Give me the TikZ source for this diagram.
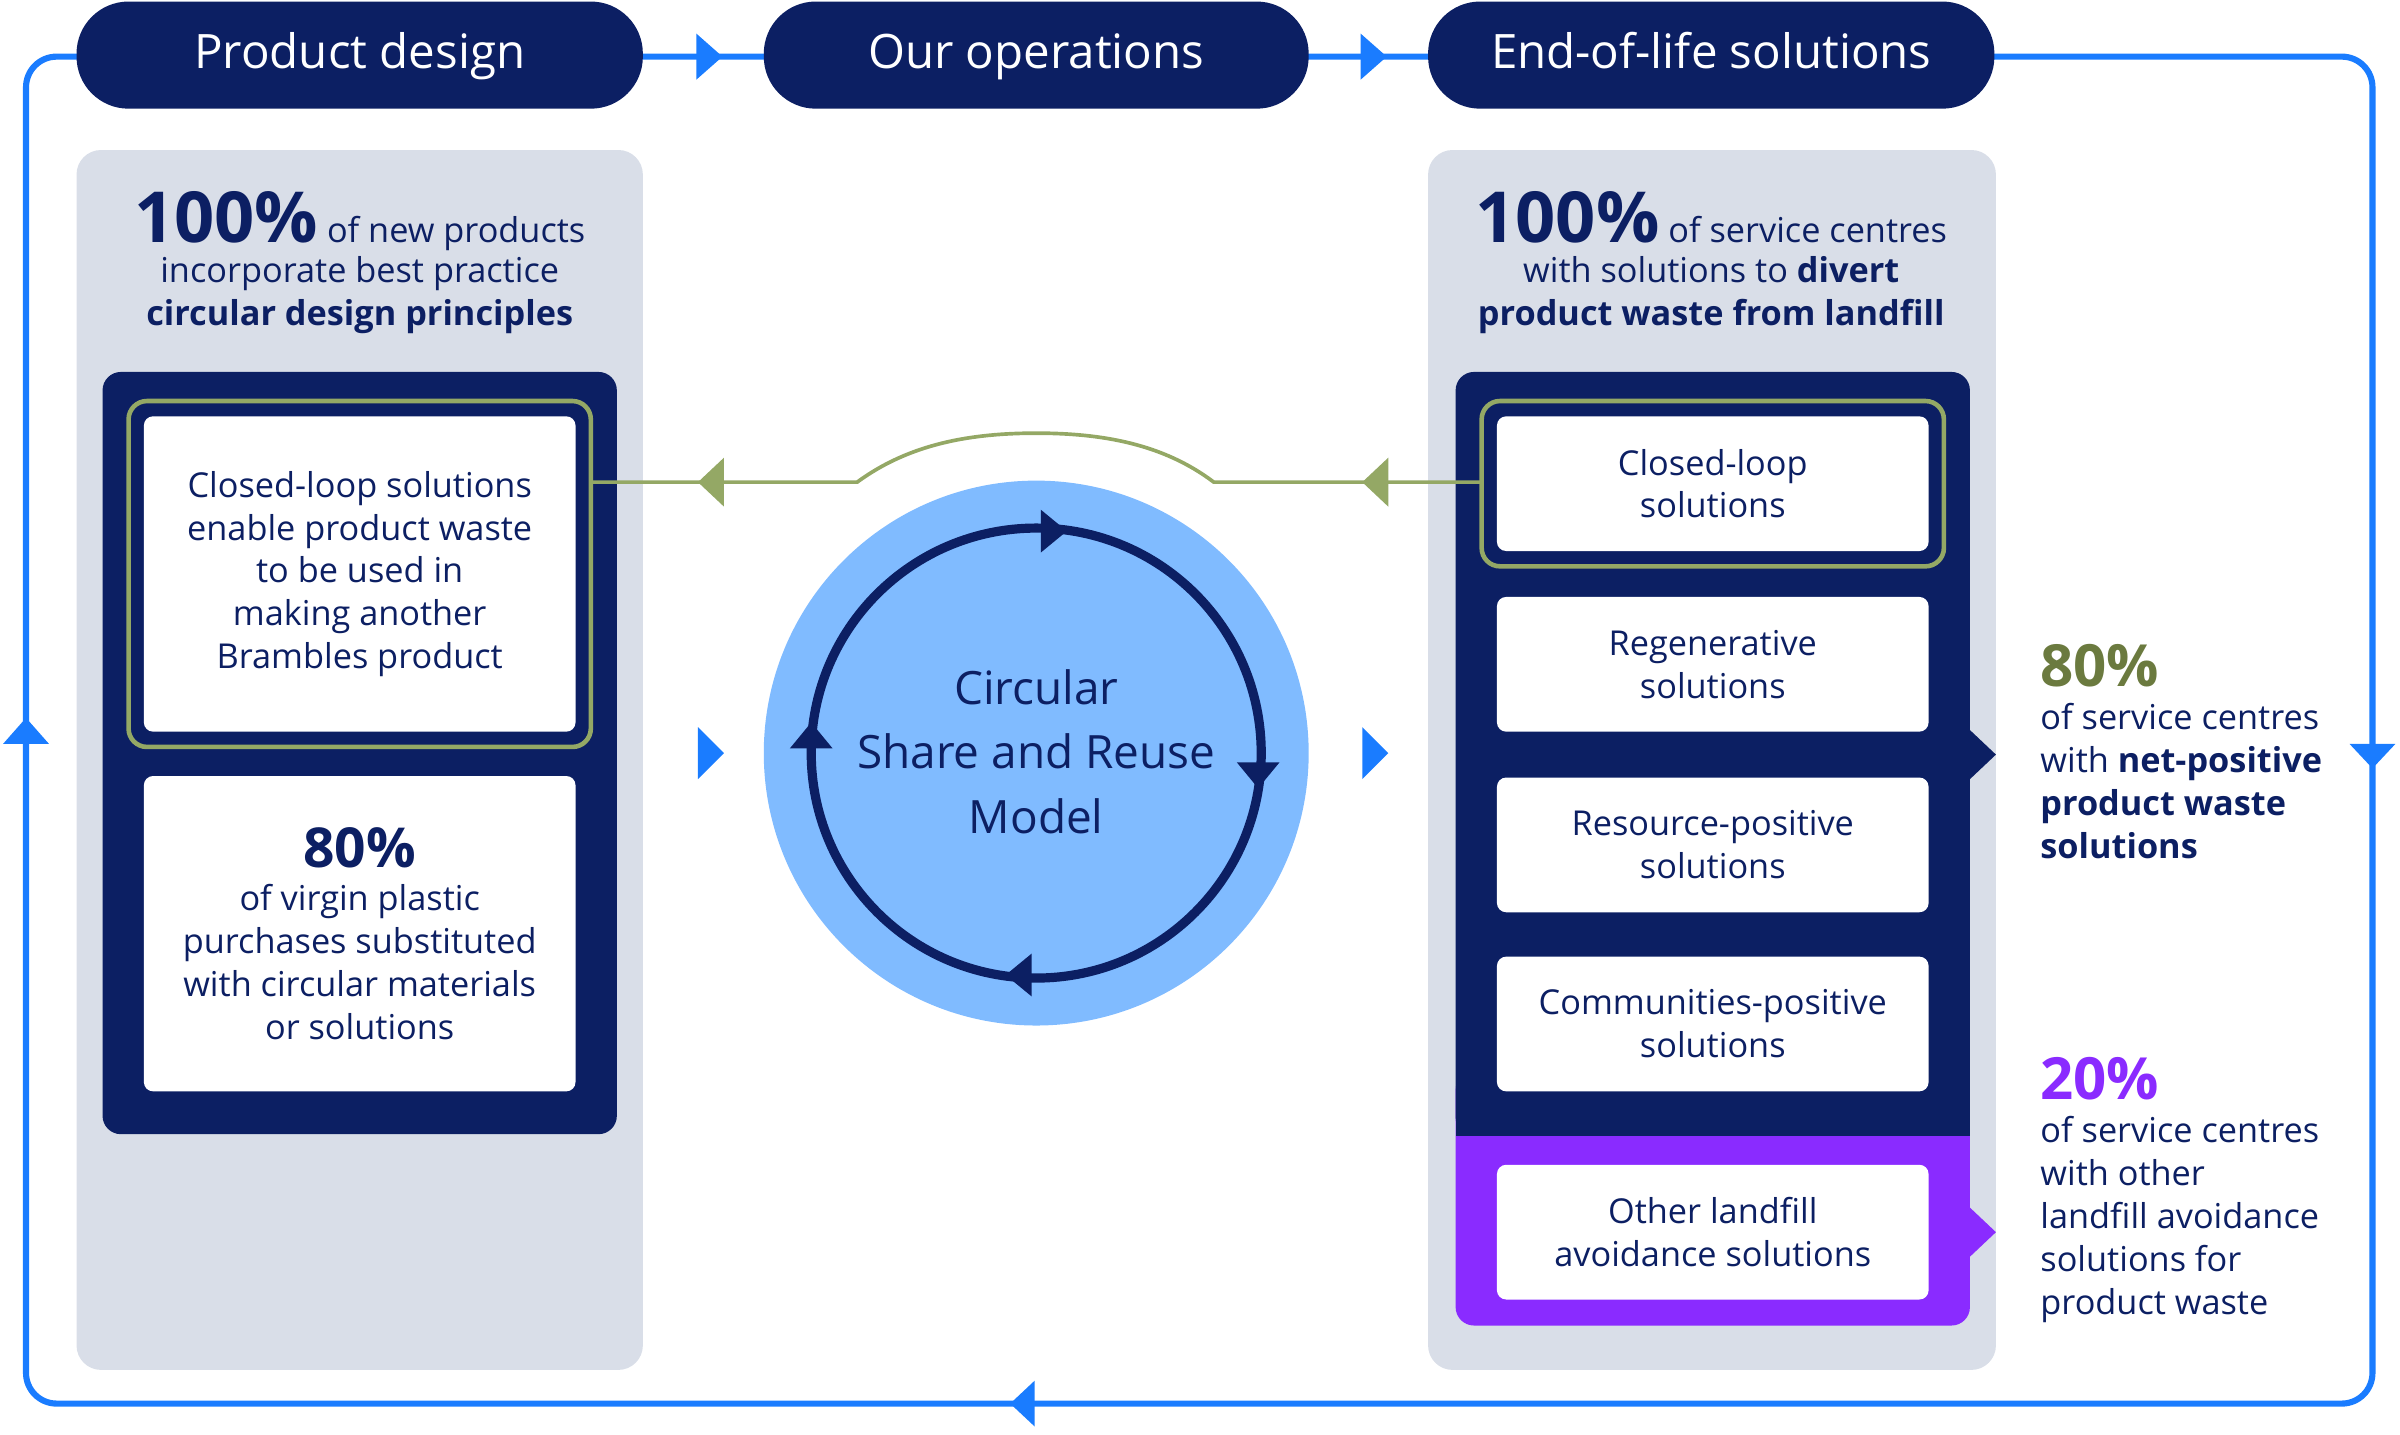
\documentclass[tikz,border=0pt]{standalone}
\usepackage{fontspec}
\setmainfont{Open Sans}
\usetikzlibrary{positioning}
\definecolor{navy}{HTML}{0C1F63}
\definecolor{loopblue}{HTML}{1A7CFF}
\definecolor{lightblue}{HTML}{80BBFF}
\definecolor{panelgray}{HTML}{D9DEE8}
\definecolor{olive}{HTML}{94A865}
\definecolor{olivetext}{HTML}{6B7A3F}
\definecolor{purp}{HTML}{8A2BFF}
\tikzset{
  header/.style={fill=navy, rounded corners=17pt, text=white, text height=12pt, text depth=3pt, font=\fontsize{15.5}{19}\selectfont},
  card/.style={fill=white, rounded corners=3pt, text=navy, align=center, font=\fontsize{11.2}{14}\selectfont},
  body/.style={text=navy, align=center, font=\fontsize{11.2}{14}\selectfont},
}
\begin{document}
\begin{tikzpicture}[x=0.5pt,y=-0.5pt]
\useasboundingbox (0,0) rectangle (1568,937);

%Outer loop
\draw[loopblue, line width=2pt, rounded corners=10pt] (17,37) rectangle (1550,917);
\fill[loopblue] (455,22) -- (472,37) -- (455,52) -- cycle;
\fill[loopblue] (889,22) -- (906,37) -- (889,52) -- cycle;
\fill[loopblue] (2,486) -- (17,469) -- (32,486) -- cycle;
\fill[loopblue] (1535,486) -- (1550,502) -- (1565,486) -- cycle;
\fill[loopblue] (676,902) -- (660,917) -- (676,932) -- cycle;

%Headers
\node[header, minimum width=185pt, minimum height=35pt] (pd) at (235,36) {Product design};
\node[header, minimum width=178pt, minimum height=35pt] (ops) at (677,36) {Our operations};
\node[header, minimum width=185pt, minimum height=35pt] (eol) at (1118,36) {End-of-life solutions};

%Panels
\fill[panelgray, rounded corners=8pt] (50,98) rectangle (420,895);
\fill[panelgray, rounded corners=8pt] (933,98) rectangle (1304,895);

\node[body, anchor=north] (lhead) at (235,118) {{\fontsize{23}{24}\selectfont\bfseries 100\%} of new products\\[-1pt]incorporate best practice\\\textbf{circular design principles}};
\node[body, anchor=north] (rhead) at (1118,118) {{\fontsize{23}{24}\selectfont\bfseries 100\%} of service centres\\[-1pt]with solutions to \textbf{divert}\\\textbf{product waste from landfill}};

%Left navy box
\fill[navy, rounded corners=6pt] (67,243) rectangle (403,741);
\draw[olive, line width=1.5pt, rounded corners=6pt] (84,262) rectangle (386,488);
\node[card, minimum width=141pt, minimum height=103pt] (closedL) at (235,375) {Closed-loop solutions\\enable product waste\\to be used in\\making another\\Brambles product};
\node[card, minimum width=141pt, minimum height=103pt] (virgin) at (235,610) {{\fontsize{18}{20}\selectfont\bfseries 80\%}\\of virgin plastic\\purchases substituted\\with circular materials\\or solutions};

%Right navy box
\fill[purp, rounded corners=6pt] (951,700) rectangle (1287,866);
\fill[navy, rounded corners=6pt] (951,243) rectangle (1287,742);
\fill[navy] (951,720) rectangle (1287,742);
\fill[navy] (1286,476) -- (1304,493) -- (1286,510) -- cycle;
\fill[purp] (1286,788) -- (1304,805) -- (1286,822) -- cycle;
\draw[olive, line width=1.5pt, rounded corners=6pt] (968,262) rectangle (1270,370);
\node[card, minimum width=141pt, minimum height=44pt] (closedR) at (1119,316) {Closed-loop\\solutions};
\node[card, minimum width=141pt, minimum height=44pt] (regen) at (1119,434) {Regenerative\\solutions};
\node[card, minimum width=141pt, minimum height=44pt] (resource) at (1119,552) {Resource-positive\\solutions};
\node[card, minimum width=141pt, minimum height=44pt] (comm) at (1119,669) {Communities-positive\\solutions};
\node[card, minimum width=141pt, minimum height=44pt] (other) at (1119,805) {Other landfill\\avoidance solutions};

%Right side figures
\node[anchor=north west, align=left, text=navy, font=\fontsize{11.2}{14}\selectfont] (net) at (1326,414) {{\fontsize{19}{22}\selectfont\bfseries\color{olivetext}80\%}\\of service centres\\with \textbf{net-positive}\\\textbf{product waste}\\\textbf{solutions}};
\node[anchor=north west, align=left, text=navy, font=\fontsize{11.2}{14}\selectfont] (oth) at (1326,684) {{\fontsize{19}{22}\selectfont\bfseries\color{purp}20\%}\\of service centres\\with other\\landfill avoidance\\solutions for\\product waste};

%Green connector
\coordinate (gl) at (386,315);
\coordinate (gr) at (968,315);
\draw[olive, line width=1.2pt] (gr) -- (793,315) .. controls (760,290) and (720,283) .. (677,283) .. controls (634,283) and (594,290) .. (560,315) -- (gl);
\fill[olive] (890,315) -- (907,299) -- (907,331) -- cycle;
\fill[olive] (456,315) -- (473,299) -- (473,331) -- cycle;

%Centre circle
\fill[lightblue] (677,492) circle (178);
\draw[navy, line width=3pt] (677,492) circle (147);
\node[text=navy, align=center, font=\fontsize{15}{21}\selectfont] (model) at (677,491) {Circular\\Share and Reuse\\Model};
\fill[navy] (697,347) -- (680,333) -- (680,361) -- cycle;
\fill[navy] (822,515) -- (808,498) -- (836,498) -- cycle;
\fill[navy] (657,637) -- (674,623) -- (674,651) -- cycle;
\fill[navy] (530,472) -- (516,489) -- (544,489) -- cycle;

%Flow triangles
\fill[loopblue] (456,475) -- (473,492) -- (456,509) -- cycle;
\fill[loopblue] (890,475) -- (907,492) -- (890,509) -- cycle;
\end{tikzpicture}
\end{document}
